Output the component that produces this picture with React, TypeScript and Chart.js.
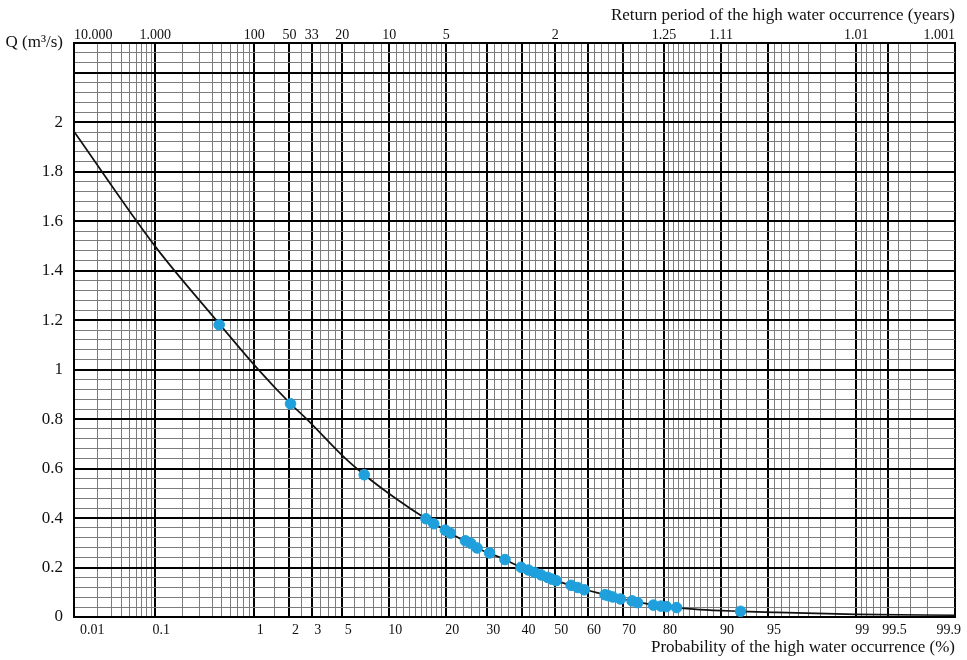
import React, { useEffect, useRef } from 'react';
import { Chart, registerables } from 'chart.js';
Chart.register(...registerables);

// ---------- data (probability in %, discharge in m3/s) ----------
const POINT_P = [0.47, 2.04, 7.0, 15.9, 17.4, 19.8, 20.9, 24.4, 25.7, 27.3, 30.6, 34.9, 39.6, 41.8, 43.7, 45.7, 47.7, 49.0, 50.3, 54.9, 56.9, 58.9, 65.0, 66.0, 67.2, 69.3, 72.4, 73.8, 77.6, 79.3, 80.5, 82.6, 92.4];
const POINT_Q = [1.181, 0.862, 0.575, 0.397, 0.377, 0.351, 0.339, 0.308, 0.298, 0.279, 0.259, 0.232, 0.201, 0.190, 0.180, 0.170, 0.160, 0.153, 0.147, 0.128, 0.119, 0.110, 0.090, 0.086, 0.081, 0.073, 0.065, 0.058, 0.048, 0.044, 0.042, 0.038, 0.023];

const CURVE_P = [0.01, 0.1, 0.44, 1.09, 2.04, 2.73, 5.22, 7.0, 10.8, 15.9, 20.9, 27.3, 34.9, 39.6, 45.7, 50.3, 56.9, 65.0, 72.4, 79.3, 86.8, 92.4, 95.4, 99, 99.9];
const CURVE_Q = [1.962, 1.497, 1.2, 1.0, 0.862, 0.801, 0.642, 0.575, 0.481, 0.397, 0.339, 0.279, 0.232, 0.201, 0.170, 0.147, 0.119, 0.090, 0.065, 0.044, 0.030, 0.023, 0.019, 0.011, 0.007];

// ---------- axes ----------
const BOTTOM_P = [0.01, 0.1, 1, 2, 3, 5, 10, 20, 30, 40, 50, 60, 70, 80, 90, 95, 99, 99.5, 99.9];
const BOTTOM_LABELS = ['0.01', '0.1', '1', '2', '3', '5', '10', '20', '30', '40', '50', '60', '70', '80', '90', '95', '99', '99.5', '99.9'];
const TOP_P = [0.01, 0.1, 1, 2, 3, 5, 10, 20, 50, 80, 90, 99, 99.9];
const TOP_LABELS = ['10.000', '1.000', '100', '50', '33', '20', '10', '5', '2', '1.25', '1.11', '1.01', '1.001'];
// minor grid ranges: [from, to, step] in %
const MINOR_RANGES: [number, number, number][] = [[0.01, 0.1, 0.01], [0.1, 1, 0.1], [1, 5, 0.5], [5, 20, 1], [20, 80, 2], [80, 95, 1], [95, 99, 0.5], [99, 99.9, 0.1]];

const Y_MAX = 2.32;
const Y_MINOR = 0.04;
const Y_LABEL_VALUES = [0, 0.2, 0.4, 0.6, 0.8, 1, 1.2, 1.4, 1.6, 1.8, 2];
const Y_LABELS = ['0', '0.2', '0.4', '0.6', '0.8', '1', '1.2', '1.4', '1.6', '1.8', '2'];
const Y_MAJOR_TOP = 2.2;
const Y_TITLE = 'Q (m\u00B3/s)';

const X_TITLE = 'Probability of the high water occurrence (%)';
const X2_TITLE = 'Return period of the high water occurrence (years)';

// inverse standard normal CDF (Acklam)
function probit(p: number): number {
  const a = [-3.969683028665376e+01, 2.209460984245205e+02, -2.759285104469687e+02, 1.383577518672690e+02, -3.066479806614716e+01, 2.506628277459239e+00];
  const b = [-5.447609879822406e+01, 1.615858368580409e+02, -1.556989798598866e+02, 6.680131188771972e+01, -1.328068155288572e+01];
  const c = [-7.784894002430293e-03, -3.223964580411365e-01, -2.400758277161838e+00, -2.549732539343734e+00, 4.374664141464968e+00, 2.938163982698783e+00];
  const d = [7.784695709041462e-03, 3.224671290700398e-01, 2.445134137142996e+00, 3.754408661907416e+00];
  const pl = 0.02425;
  if (p < pl) {
    const q = Math.sqrt(-2 * Math.log(p));
    return (((((c[0] * q + c[1]) * q + c[2]) * q + c[3]) * q + c[4]) * q + c[5]) / ((((d[0] * q + d[1]) * q + d[2]) * q + d[3]) * q + 1);
  }
  if (p > 1 - pl) {
    const q = Math.sqrt(-2 * Math.log(1 - p));
    return -(((((c[0] * q + c[1]) * q + c[2]) * q + c[3]) * q + c[4]) * q + c[5]) / ((((d[0] * q + d[1]) * q + d[2]) * q + d[3]) * q + 1);
  }
  const q = p - 0.5;
  const r = q * q;
  return (((((a[0] * r + a[1]) * r + a[2]) * r + a[3]) * r + a[4]) * r + a[5]) * q / (((((b[0] * r + b[1]) * r + b[2]) * r + b[3]) * r + b[4]) * r + 1);
}
const zp = (pct: number) => probit(pct / 100);

type G = { z: number; label: string; major: boolean };

function buildXGrid(): G[] {
  const map = new Map<string, G>();
  MINOR_RANGES.forEach(([a, b, s]) => {
    const n = Math.round((b - a) / s);
    for (let i = 0; i <= n; i++) {
      const p = Math.round((a + i * s) * 10000) / 10000;
      map.set(p.toFixed(4), { z: zp(p), label: '', major: false });
    }
  });
  BOTTOM_P.forEach((p, i) => {
    map.set(p.toFixed(4), { z: zp(p), label: BOTTOM_LABELS[i], major: true });
  });
  return Array.from(map.values()).sort((u, v) => u.z - v.z);
}

type YG = { v: number; label: string; major: boolean };
function buildYGrid(): YG[] {
  const out: YG[] = [];
  const n = Math.round(Y_MAX / Y_MINOR);
  for (let i = 0; i <= n; i++) {
    const v = Math.round(i * Y_MINOR * 1000) / 1000;
    const li = Y_LABEL_VALUES.findIndex((w) => Math.abs(w - v) < 1e-6);
    const major = li >= 0 || Math.abs(v - Y_MAJOR_TOP) < 1e-6 || i === n;
    out.push({ v, label: li >= 0 ? Y_LABELS[li] : i === n ? Y_TITLE : '', major });
  }
  return out;
}

export default function App() {
  const ref = useRef<HTMLCanvasElement>(null);
  useEffect(() => {
    const zmin = zp(0.01);
    const zmax = zp(99.9);
    const xGrid = buildXGrid();
    const yGrid = buildYGrid();
    const family = 'Liberation Serif';
    const ink = '#111';
    const minorColor = '#7c7c7c';
    const chart = new Chart(ref.current as HTMLCanvasElement, {
      type: 'scatter',
      data: {
        datasets: [
          {
            label: 'observed',
            data: POINT_P.map((p, i) => ({ x: zp(p), y: POINT_Q[i] })),
            backgroundColor: '#1fa0dc',
            borderColor: '#1fa0dc',
            pointRadius: 5.3,
            pointHoverRadius: 5.3,
            order: 0,
          },
          {
            label: 'fitted',
            data: CURVE_P.map((p, i) => ({ x: zp(p), y: CURVE_Q[i] })),
            showLine: true,
            borderColor: ink,
            borderWidth: 1.7,
            pointRadius: 0,
            pointHoverRadius: 0,
            cubicInterpolationMode: 'monotone',
            order: 1,
          },
        ],
      } as any,
      options: {
        animation: false,
        responsive: true,
        maintainAspectRatio: false,
        events: [],
        layout: { padding: { left: 0, right: 12, top: 0, bottom: 0 } },
        plugins: { legend: { display: false }, tooltip: { enabled: false } },
        scales: {
          x: {
            type: 'linear',
            position: 'bottom',
            min: zmin,
            max: zmax,
            afterBuildTicks: (s: any) => { s.ticks = xGrid.map((g) => ({ value: g.z })); },
            afterFit: (s: any) => { s.height = 43; },
            grid: {
              drawTicks: false,
              color: (c: any) => (xGrid[c.index] && xGrid[c.index].major ? '#000' : minorColor),
              lineWidth: (c: any) => (xGrid[c.index] && xGrid[c.index].major ? 2 : 1),
            },
            border: { display: true, color: '#000', width: 2 },
            ticks: {
              autoSkip: false, maxRotation: 0, minRotation: 0, align: 'inner', labelOffset: 6, padding: 5,
              color: ink, font: { family, size: 14 },
              callback: (_v: any, i: number) => (xGrid[i] ? xGrid[i].label : ''),
            },
            title: { display: true, text: X_TITLE, align: 'end', color: ink, font: { family, size: 17 }, padding: { top: 0, bottom: 2 } },
          },
          x2: {
            type: 'linear',
            position: 'top',
            min: zmin,
            max: zmax,
            afterBuildTicks: (s: any) => { s.ticks = TOP_P.map((p) => ({ value: zp(p) })); },
            afterFit: (s: any) => { s.height = 43; },
            grid: { display: false, drawTicks: false },
            border: { display: true, color: '#000', width: 2 },
            ticks: {
              autoSkip: false, maxRotation: 0, minRotation: 0, align: 'inner', padding: -1,
              color: ink, font: { family, size: 14 },
              callback: (_v: any, i: number) => TOP_LABELS[i] ?? '',
            },
            title: { display: true, text: X2_TITLE, align: 'end', color: ink, font: { family, size: 17 }, padding: { top: 5, bottom: 0 } },
          },
          y: {
            type: 'linear',
            position: 'left',
            min: 0,
            max: Y_MAX,
            afterBuildTicks: (s: any) => { s.ticks = yGrid.map((g) => ({ value: g.v })); },
            afterFit: (s: any) => { s.width = 74; },
            grid: {
              drawTicks: false,
              color: (c: any) => (yGrid[c.index] && yGrid[c.index].major ? '#000' : minorColor),
              lineWidth: (c: any) => (yGrid[c.index] && yGrid[c.index].major ? 2 : 1),
            },
            border: { display: true, color: '#000', width: 2 },
            ticks: {
              autoSkip: false, padding: 11, color: ink, font: { family, size: 17 },
              callback: (_v: any, i: number) => (yGrid[i] ? yGrid[i].label : ''),
            },
          },
        },
      } as any,
    });
    return () => chart.destroy();
  }, []);
  return (
    <div style={{ position: 'fixed', left: 0, top: 0, width: 967, height: 660, background: '#fff' }}>
      <canvas ref={ref} />
    </div>
  );
}
